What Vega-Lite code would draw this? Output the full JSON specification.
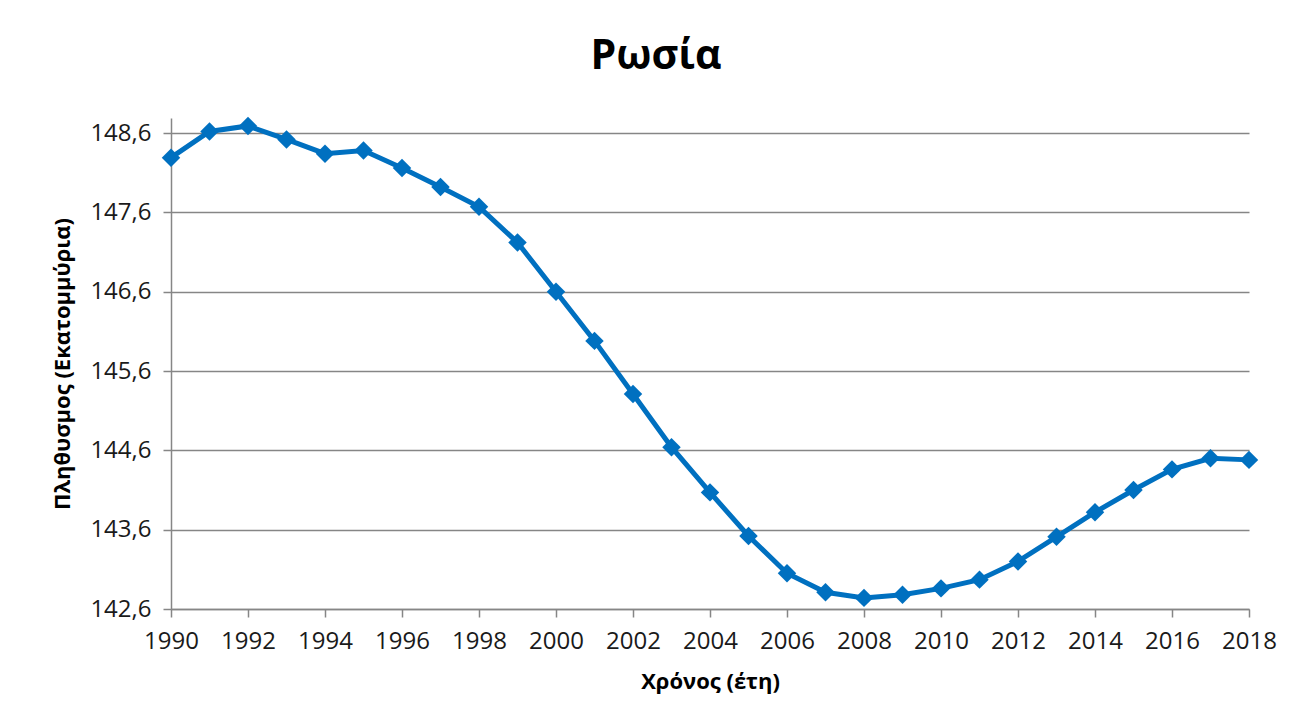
{
  "$schema": "https://vega.github.io/schema/vega-lite/v6.json",
  "autosize": {"type": "none"},
  "width": 1078,
  "height": 491,
  "padding": {"left": 171, "top": 118, "right": 56, "bottom": 115},
  "background": "white",
  "config": {
    "view": {"stroke": null},
    "font": "Open Sans"
  },
  "title": {
    "text": "Ρωσία",
    "font": "Open Sans",
    "fontSize": 41,
    "fontWeight": "bold",
    "color": "#000000",
    "anchor": "middle",
    "dx": -54,
    "offset": 38
  },
  "data": {
    "values": [
      {"year": 1990, "pop": 148.29},
      {"year": 1991, "pop": 148.62},
      {"year": 1992, "pop": 148.69},
      {"year": 1993, "pop": 148.52},
      {"year": 1994, "pop": 148.34},
      {"year": 1995, "pop": 148.38},
      {"year": 1996, "pop": 148.16},
      {"year": 1997, "pop": 147.92},
      {"year": 1998, "pop": 147.67},
      {"year": 1999, "pop": 147.22},
      {"year": 2000, "pop": 146.60},
      {"year": 2001, "pop": 145.98},
      {"year": 2002, "pop": 145.31},
      {"year": 2003, "pop": 144.64},
      {"year": 2004, "pop": 144.07},
      {"year": 2005, "pop": 143.52},
      {"year": 2006, "pop": 143.05},
      {"year": 2007, "pop": 142.81},
      {"year": 2008, "pop": 142.74},
      {"year": 2009, "pop": 142.78},
      {"year": 2010, "pop": 142.86},
      {"year": 2011, "pop": 142.97},
      {"year": 2012, "pop": 143.20},
      {"year": 2013, "pop": 143.51},
      {"year": 2014, "pop": 143.82},
      {"year": 2015, "pop": 144.10},
      {"year": 2016, "pop": 144.36},
      {"year": 2017, "pop": 144.50},
      {"year": 2018, "pop": 144.48}
    ]
  },
  "encoding": {
    "x": {
      "field": "year",
      "type": "quantitative",
      "scale": {"domain": [1990, 2018], "nice": false, "zero": false},
      "axis": {
        "title": "Χρόνος (έτη)",
        "values": [1990, 1992, 1994, 1996, 1998, 2000, 2002, 2004, 2006, 2008, 2010, 2012, 2014, 2016, 2018],
        "format": "d",
        "grid": false,
        "domainColor": "#868686",
        "domainWidth": 1.5,
        "tickColor": "#868686",
        "tickSize": 8,
        "tickWidth": 1.5,
        "labelFont": "Open Sans",
        "labelFontSize": 24,
        "labelColor": "#1a1a1a",
        "labelPadding": 12,
        "labelFlush": false,
        "labelOverlap": false,
        "titleFont": "Open Sans",
        "titleFontSize": 22,
        "titleFontWeight": "bold",
        "titleColor": "#000000",
        "titlePadding": 18
      }
    },
    "y": {
      "field": "pop",
      "type": "quantitative",
      "scale": {"domain": [142.6, 148.79], "nice": false, "zero": false},
      "axis": {
        "title": "Πληθυσμος (Εκατομμύρια)",
        "values": [142.6, 143.6, 144.6, 145.6, 146.6, 147.6, 148.6],
        "labelExpr": "replace(format(datum.value, '.1f'), '.', ',')",
        "grid": true,
        "gridColor": "#868686",
        "gridWidth": 1.5,
        "domainColor": "#868686",
        "domainWidth": 1.5,
        "tickColor": "#868686",
        "tickSize": 8,
        "tickWidth": 1.5,
        "labelFont": "Open Sans",
        "labelFontSize": 24,
        "labelColor": "#1a1a1a",
        "labelPadding": 12,
        "labelFlush": false,
        "titleFont": "Open Sans",
        "titleFontSize": 22,
        "titleFontWeight": "bold",
        "titleColor": "#000000",
        "titlePadding": 15
      }
    }
  },
  "layer": [
    {"mark": {"type": "line", "color": "#0070C0", "strokeWidth": 5}},
    {"mark": {"type": "point", "shape": "diamond", "filled": true, "color": "#0070C0", "opacity": 1, "size": 340}}
  ]
}
